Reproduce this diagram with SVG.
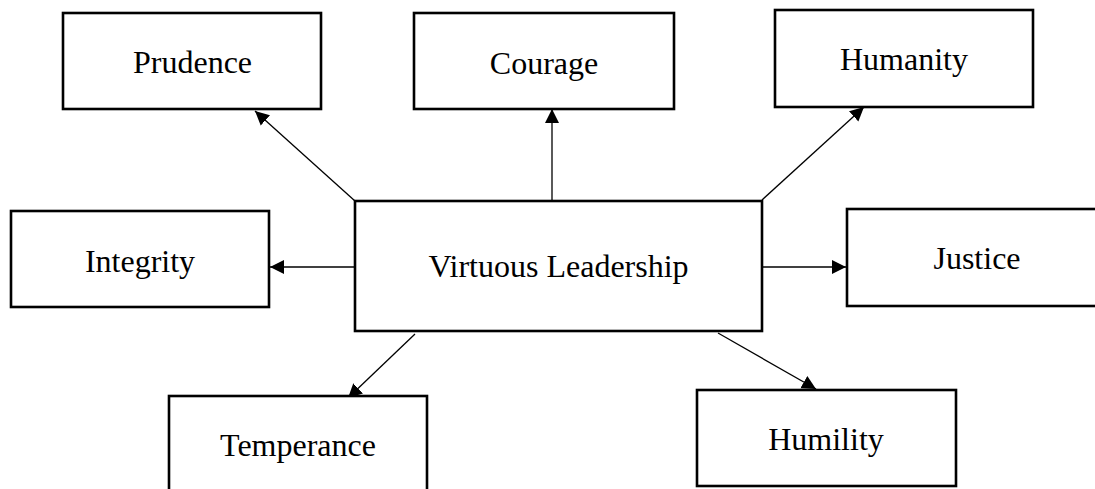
<svg xmlns="http://www.w3.org/2000/svg" width="1095" height="489" viewBox="0 0 1095 489">
<style>
.box{fill:#fff;stroke:#000;stroke-width:2.6}
.lbl{font-family:"Liberation Serif","Times New Roman",serif;font-size:32px;fill:#000;text-anchor:middle}
.con{stroke:#000;stroke-width:1.3;fill:none;marker-end:url(#ah)}
</style>
<defs>
<marker id="ah" markerUnits="userSpaceOnUse" markerWidth="15" markerHeight="15" refX="14" refY="7" orient="auto" viewBox="0 0 15 14">
<path d="M0,0 L14,7 L0,14 z" fill="#000"/>
</marker>
</defs>
<rect width="1095" height="489" fill="#fff"/>
<g id="connectors">
<line class="con" x1="355" y1="201" x2="255" y2="111"/>
<line class="con" x1="552" y1="200" x2="552" y2="109"/>
<line class="con" x1="762" y1="200" x2="864" y2="107"/>
<line class="con" x1="355" y1="267" x2="270" y2="267"/>
<line class="con" x1="762" y1="267" x2="846" y2="267"/>
<line class="con" x1="415" y1="334" x2="348" y2="398"/>
<line class="con" x1="718" y1="333" x2="816" y2="389"/>
</g>
<g id="center"><rect class="box" x="355" y="201" width="407" height="130"/><text class="lbl" x="558.5" y="277">Virtuous Leadership</text></g>
<g id="prudence"><rect class="box" x="63" y="13" width="258" height="96"/><text class="lbl" x="192.5" y="73">Prudence</text></g>
<g id="courage"><rect class="box" x="414" y="13" width="260" height="96"/><text class="lbl" x="544" y="74">Courage</text></g>
<g id="humanity"><rect class="box" x="775" y="10" width="258" height="97"/><text class="lbl" x="904" y="70">Humanity</text></g>
<g id="integrity"><rect class="box" x="11" y="211" width="258" height="96"/><text class="lbl" x="140" y="272">Integrity</text></g>
<g id="justice"><rect class="box" x="847" y="209" width="260" height="97"/><text class="lbl" x="977" y="269">Justice</text></g>
<g id="temperance"><rect class="box" x="169" y="396" width="258" height="110"/><text class="lbl" x="298" y="456">Temperance</text></g>
<g id="humility"><rect class="box" x="697" y="390" width="259" height="96"/><text class="lbl" x="826" y="450">Humility</text></g>
</svg>
